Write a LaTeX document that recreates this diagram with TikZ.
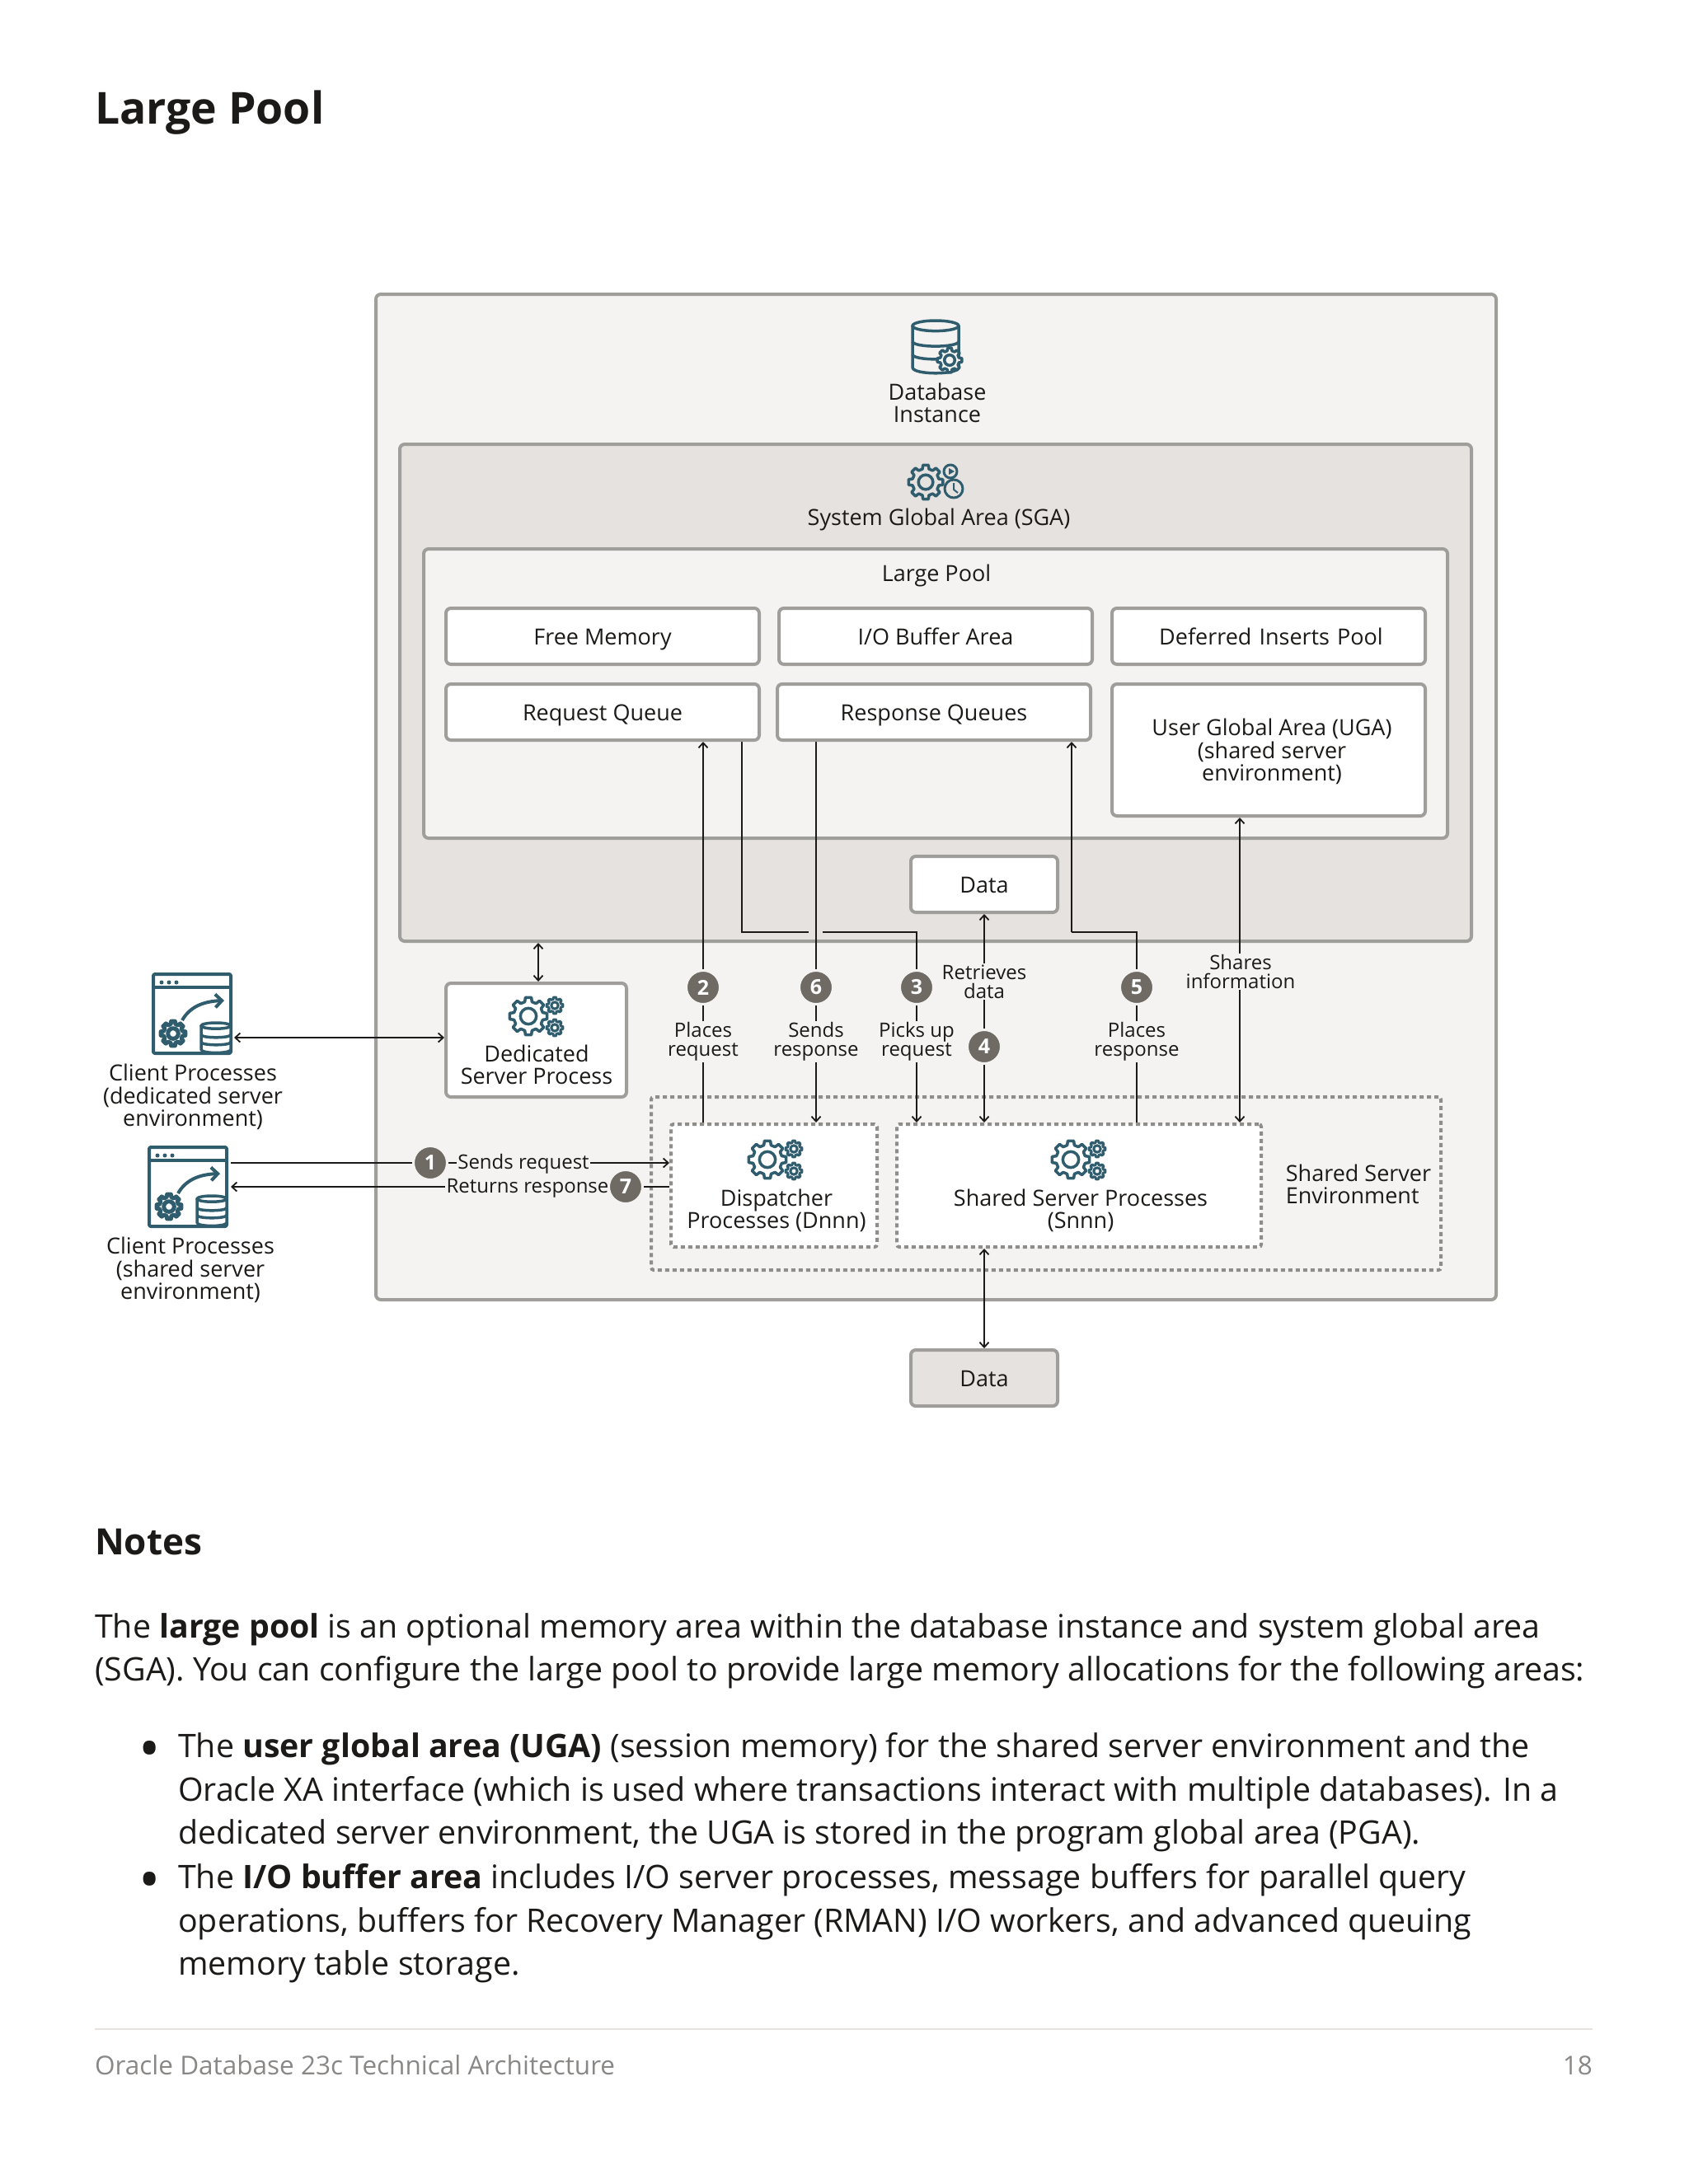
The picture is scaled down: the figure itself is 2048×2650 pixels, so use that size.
\documentclass[tikz,border=0pt]{standalone}
\usepackage{fontspec}
\setmainfont{Open Sans}
\usetikzlibrary{arrows.meta}
\definecolor{outerfill}{HTML}{F4F3F1}
\definecolor{sgafill}{HTML}{E5E2DF}
\definecolor{edgegray}{HTML}{A09E9A}
\definecolor{dotgray}{HTML}{8F8D8A}
\definecolor{stepgray}{HTML}{6F6A64}
\definecolor{icongreen}{HTML}{2F5D6E}
\definecolor{inktext}{HTML}{1B1A18}
\definecolor{footgray}{HTML}{8A8886}
\pgfdeclarelayer{panels}
\pgfdeclarelayer{lines}
\pgfsetlayers{panels,lines,main}
\tikzset{
  panel/.style={draw=edgegray,line width=4,rounded corners=6,inner sep=0},
  dotbox/.style={draw=dotgray,line width=4,dash pattern=on 5 off 4,rounded corners=3,inner sep=0},
  difftext/.style={font=\fontsize{27}{27.5}\selectfont,text=inktext,align=center,inner sep=0},
  onelinetext/.style={difftext,text height=24,text depth=3},
  smalltext/.style={font=\fontsize{24}{23}\selectfont,text=inktext,align=center,inner sep=1.5,fill=outerfill},
  stepdot/.style={circle,fill=stepgray,draw=outerfill,line width=3,minimum size=41,inner sep=0,text=white,font=\fontsize{25}{25}\bfseries\selectfont},
  flow/.style={draw=inktext,line width=1.8},
  icon/.style={draw=icongreen,line width=3.5,line join=round},
  bodyline/.style={anchor=base west,inner sep=0,text=inktext,font=\fontsize{39.3}{39.3}\selectfont},
  bulletmark/.style={anchor=base west,inner sep=0,text=inktext,font=\fontsize{70}{70}\selectfont},
  >={Straight Barb[length=6,width=11]},
  pics/gear/.style={code={
    \filldraw (-14:.78) \foreach \a in {0,45,...,315}{ -- (\a-14:.78) -- (\a-9:1) -- (\a+9:1) -- (\a+14:.78)} -- cycle;
    \filldraw (0,0) circle[radius=.42];
  }},
  pics/threegears/.style={code={
    \pic[icon,fill=white,scale=23] at (0,0) {gear};
    \pic[icon,line width=3,fill=white,scale=10] at (32,-13) {gear};
    \pic[icon,line width=3,fill=white,scale=10] at (32,14) {gear};
  }},
  pics/dbstack/.style={code={
    \filldraw (-1,-.8) -- (-1,.8) .. controls (-1,1.1) and (1,1.1) .. (1,.8) -- (1,-.8) -- cycle;
    \filldraw (0,-.8) ellipse[x radius=1,y radius=.2];
    \draw (-1,-.2) .. controls (-1,.05) and (1,.05) .. (1,-.2);
    \draw (-1,.3) .. controls (-1,.55) and (1,.55) .. (1,.3);
  }},
  pics/clientwin/.style={code={
    \draw[icon,line width=4,rounded corners=2] (0,0) rectangle (94,96);
    \draw[icon,line width=4] (0,16) -- (94,16);
    \foreach \x in {10,19,28}{\fill[icongreen] (\x,10) circle[radius=2.5];}
    \draw[icon,line width=4,-{Straight Barb[length=8,width=16]}] (35,56) .. controls (44,40) and (60,33) .. (86,32);
    \pic[icon,line width=5,fill=white,scale=15] at (24,72) {gear};
    \pic[icon,fill=white,xscale=18,yscale=18] at (76,77) {dbstack};
  }}
}
\begin{document}
\begin{tikzpicture}[x=1pt,y=-1pt]
  \useasboundingbox (0,0) rectangle (2048,2650);
  \node[anchor=base west,inner sep=0,text=inktext,font=\fontsize{53.5}{54}\bfseries\selectfont] (title) at (115,150) {Large Pool};

  \begin{pgfonlayer}{panels}
    \node[panel,fill=outerfill,minimum width=1359,minimum height=1220] (instance) at (1135.5,967) {};
    \node[panel,fill=sgafill,minimum width=1300,minimum height=603] (sga) at (1135,840.5) {};
    \node[panel,fill=outerfill,minimum width=1242,minimum height=351] (largepool) at (1135,841.5) {};
    \node[dotbox,minimum width=958,minimum height=210] (sharedenv) at (1269,1436) {};
  \end{pgfonlayer}

  % memory areas
  \node[panel,fill=white,minimum width=380,minimum height=68,onelinetext] (freemem) at (731,772) {Free Memory};
  \node[panel,fill=white,minimum width=380,minimum height=68,onelinetext] (iobuffer) at (1135,772) {I/O Buffer Area};
  \node[panel,fill=white,minimum width=380,minimum height=68,onelinetext,text width=372] (deferred) at (1539,772) {\hspace*{6pt}Deferred Inserts Pool};
  \node[panel,fill=white,minimum width=380,minimum height=68,onelinetext] (reqqueue) at (731,864) {Request Queue};
  \node[panel,fill=white,minimum width=380,minimum height=68,onelinetext] (respqueue) at (1133,864) {Response Queues};
  \node[panel,fill=white,minimum width=380,minimum height=160] (uga) at (1539,910) {};
  \node[panel,fill=white,minimum width=178,minimum height=68,onelinetext] (dataup) at (1194,1073) {Data};
  \node[panel,fill=sgafill,minimum width=178,minimum height=68,onelinetext] (datalow) at (1194,1672) {Data};

  % process boxes
  \node[panel,fill=white,minimum width=219,minimum height=138] (dedicated) at (650.5,1262) {};
  \node[dotbox,fill=white,minimum width=250,minimum height=149] (dispatcher) at (939,1438.5) {};
  \node[dotbox,fill=white,minimum width=442,minimum height=149] (sharedproc) at (1309,1438.5) {};

  \pic[icon,fill=outerfill,xscale=28,yscale=31.5] at (1135,420.5) {dbstack};
  \pic[icon,fill=outerfill,scale=15] at (1152,437) {gear};
  \pic[icon,fill=sgafill,scale=21] at (1123,585) {gear};
  \draw[icon,line width=3] (1153,572) circle[radius=8];
  \draw[icon,line width=3] (1157,593) circle[radius=11];
  \fill[icongreen] (1151,568) -- (1158,572) -- (1151,576) -- cycle;
  \draw[icon,line width=2] (1157,586) -- (1157,594) -- (1162,598);
  \pic at (641,1233) {threegears};
  \pic at (931,1407) {threegears};
  \pic at (1299,1407) {threegears};
  \pic at (186,1182) {clientwin};
  \pic at (181,1392) {clientwin};

  \node[difftext] (dbtext) at (1137,489) {Database\\Instance};
  \node[difftext] (sgatext) at (1139,630) {System Global Area (SGA)};
  \node[difftext] (lptext) at (1136,698) {Large Pool};
  \node[difftext] (ugatext) at (1543,912) {User Global Area (UGA)\\(shared server\\environment)};
  \node[difftext] (dedtext) at (651,1292) {Dedicated\\Server Process};
  \node[difftext] (disptext) at (942,1469) {Dispatcher\\Processes (Dnnn)};
  \node[difftext] (proctext) at (1311,1469) {Shared Server Processes\\(Snnn)};
  \node[difftext,align=left] (envtext) at (1648,1437) {Shared Server\\Environment};
  \node[difftext] (client1text) at (234,1331) {Client Processes\\(dedicated server\\environment)};
  \node[difftext] (client2text) at (231,1541) {Client Processes\\(shared server\\environment)};

  % steps and their labels
  \node[stepdot] (step1) at (522,1411) {1};
  \node[stepdot] (step2) at (853,1198) {2};
  \node[stepdot] (step3) at (1112,1198) {3};
  \node[stepdot] (step4) at (1194,1270) {4};
  \node[stepdot] (step5) at (1379,1198) {5};
  \node[stepdot] (step6) at (990,1198) {6};
  \node[stepdot] (step7) at (759,1440) {7};
  \node[smalltext] (sendreq) at (635,1412) {Sends request};
  \node[smalltext] (retresp) at (640,1442) {Returns response};
  \node[smalltext] (placereq) at (853,1264) {Places\\request};
  \node[smalltext] (sendresp) at (990,1264) {Sends\\response};
  \node[smalltext] (pickreq) at (1112,1264) {Picks up\\request};
  \node[smalltext] (placeresp) at (1379,1264) {Places\\response};
  \node[smalltext] (retdata) at (1194,1191) {Retrieves\\data};
  \node[smalltext] (shareinfo) at (1505,1179) {Shares\\information};

  \coordinate (client1end) at (284,1259);
  \coordinate (client2end) at (280,1411);
  \coordinate (client2back) at (280,1440);
  \coordinate (reqjog) at (900,1131);
  \coordinate (hopleft) at (981,1131);
  \coordinate (hopright) at (998,1131);
  \coordinate (pickjog) at (1112,1131);
  \coordinate (respjog) at (1379,1131);
  \coordinate (respup) at (1300,1131);
  \coordinate (sharex) at (1504,1200);

  \begin{pgfonlayer}{lines}
    \draw[flow,<->] (client1end) -- (client1end -| dedicated.west);
    \draw[flow,<->] (dedicated.north -| 653,0) -- (sga.south -| 653,0);
    \draw[flow] (client2end) -- (step1);
    \draw[flow,->] (step1) -- (step1 -| dispatcher.west);
    \draw[flow,<-] (client2back) -- (step7);
    \draw[flow] (step7) -- (step7 -| dispatcher.west);
    \draw[flow,->] (step2) -- (step2 |- reqqueue.south);
    \draw[flow] (step2) -- (step2 |- dispatcher.north);
    \draw[flow] (step6) -- (step6 |- respqueue.south);
    \draw[flow,->] (step6) -- (step6 |- dispatcher.north);
    \draw[flow] (reqjog |- reqqueue.south) -- (reqjog) -- (hopleft);
    \draw[flow] (hopright) -- (pickjog) -- (step3);
    \draw[flow,->] (step3) -- (step3 |- sharedproc.north);
    \draw[flow,<->] (step4 |- dataup.south) -- (step4 |- sharedproc.north);
    \draw[flow] (step5) -- (respjog) -- (respup);
    \draw[flow,->] (respup) -- (respup |- respqueue.south);
    \draw[flow] (step5) -- (step5 |- sharedproc.north);
    \draw[flow,<->] (sharex |- uga.south) -- (sharex |- sharedproc.north);
    \draw[flow,<->] (step4 |- sharedproc.south) -- (step4 |- datalow.north);
  \end{pgfonlayer}

  % notes below the figure
  \node[anchor=base west,inner sep=0,text=inktext,font=\fontsize{44}{44}\bfseries\selectfont] (notes) at (115,1886) {Notes};
  \node[bodyline] (note1) at (115,1987) {The \textbf{large pool} is an optional memory area within the database instance and system global area};
  \node[bodyline] (note2) at (115,2039) {(SGA). You can configure the large pool to provide large memory allocations for the following areas:};
  \node[bulletmark] (bullet1) at (168,2146) {•};
  \node[bodyline] (note3) at (216,2132) {The \textbf{user global area (UGA)} (session memory) for the shared server environment and the};
  \node[bodyline] (note4) at (216,2185) {Oracle XA interface (which is used where transactions interact with multiple databases). In a};
  \node[bodyline] (note5) at (216,2237) {dedicated server environment, the UGA is stored in the program global area (PGA).};
  \node[bulletmark] (bullet2) at (168,2305) {•};
  \node[bodyline] (note6) at (216,2291) {The \textbf{I/O buffer area} includes I/O server processes, message buffers for parallel query};
  \node[bodyline] (note7) at (216,2344) {operations, buffers for Recovery Manager (RMAN) I/O workers, and advanced queuing};
  \node[bodyline] (note8) at (216,2396) {memory table storage.};

  \coordinate (ruleleft) at (115,2462);
  \coordinate (ruleright) at (1932,2462);
  \draw[sgafill,line width=1.5] (ruleleft) -- (ruleright);
  \node[anchor=base west,inner sep=0,text=footgray,font=\fontsize{31.5}{31.5}\selectfont] (foot) at (115,2517) {Oracle Database 23c Technical Architecture};
  \node[anchor=base east,inner sep=0,text=footgray,font=\fontsize{31.5}{31.5}\selectfont] (pagenum) at (1932,2517) {18};
\end{tikzpicture}
\end{document}
